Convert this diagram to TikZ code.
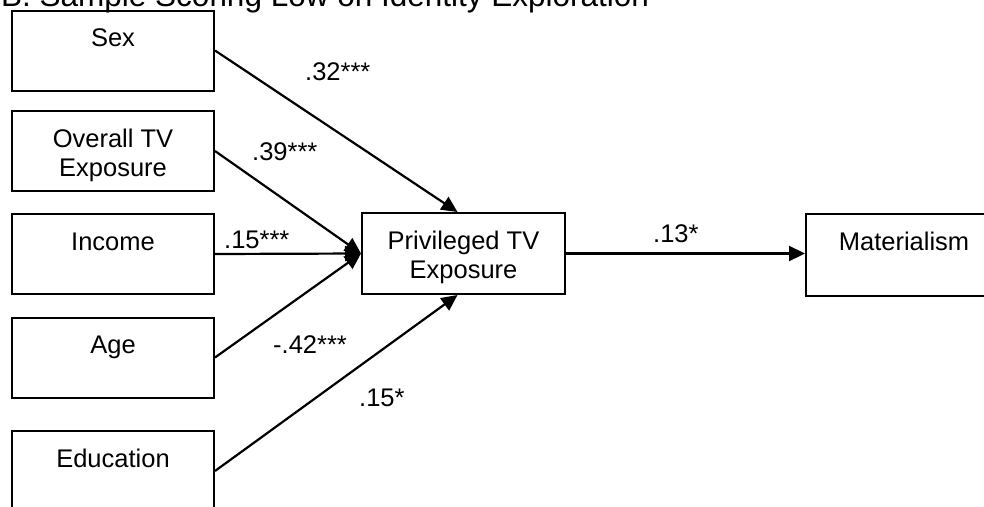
\documentclass[tikz,border=0pt]{standalone}
\usepackage{fontspec}
\setmainfont{Liberation Sans}
\usetikzlibrary{arrows.meta}
% top-aligned text inside a variable box
\newcommand{\vartext}[2][80pt]{\parbox[c][#1][t]{196pt}{\centering\rule{0pt}{36pt}#2}}
\begin{document}
\begin{tikzpicture}[x=1pt,y=-1pt,
  every node/.style={font=\fontsize{25.5}{29}\selectfont},
  varbox/.style={draw, line width=2pt, inner sep=0pt, minimum width=202pt, minimum height=80pt},
  link/.style={line width=2.2pt, -{Triangle[length=16pt,width=15pt]}},
  coef/.style={anchor=base west, inner sep=0pt}]
\clip (0,0) rectangle (984,506);

% heading (partly above the frame)
\node[anchor=base west, inner sep=0pt, font=\fontsize{31.5}{36}\selectfont] (title) at (1,6)
  {B. Sample Scoring Low on Identity Exploration};

% predictors
\node[varbox] (sex)  at (113,50.5) {\vartext{Sex}};
\node[varbox] (tv)   at (113,151)  {\vartext{Overall TV\\Exposure}};
\node[varbox] (inc)  at (113,254)  {\vartext{Income}};
\node[varbox] (age)  at (113,357.5){\vartext{Age}};
\node[varbox] (edu)  at (113,471)  {\vartext{Education}};

% mediator and outcome
\node[varbox, minimum width=203pt, minimum height=81pt] (priv) at (463.5,253.5)
  {\vartext[81pt]{Privileged TV\\Exposure}};
\node[varbox, minimum width=184pt, minimum height=82pt] (mat) at (904,255)
  {\vartext[82pt]{Materialism}};

% paths
\draw[link] (sex.east) -- ([xshift=-6pt]priv.north);
\draw[link] (tv.east)  -- (priv.west);
\draw[link] (inc.east) -- (priv.west);
\draw[link] (age.east) -- (priv.west);
\draw[link] (edu.east) -- ([xshift=-6pt]priv.south);
\draw[link] (priv.east) -- (priv.east -| mat.west);

% path coefficients
\node[coef] (c1) at (305,80)  {.32***};
\node[coef] (c2) at (252,160) {.39***};
\node[coef] (c3) at (224,248) {.15***};
\node[coef] (c4) at (273,353) {-.42***};
\node[coef] (c5) at (359,406) {.15*};
\node[coef] (c6) at (653,242) {.13*};
\end{tikzpicture}
\end{document}
